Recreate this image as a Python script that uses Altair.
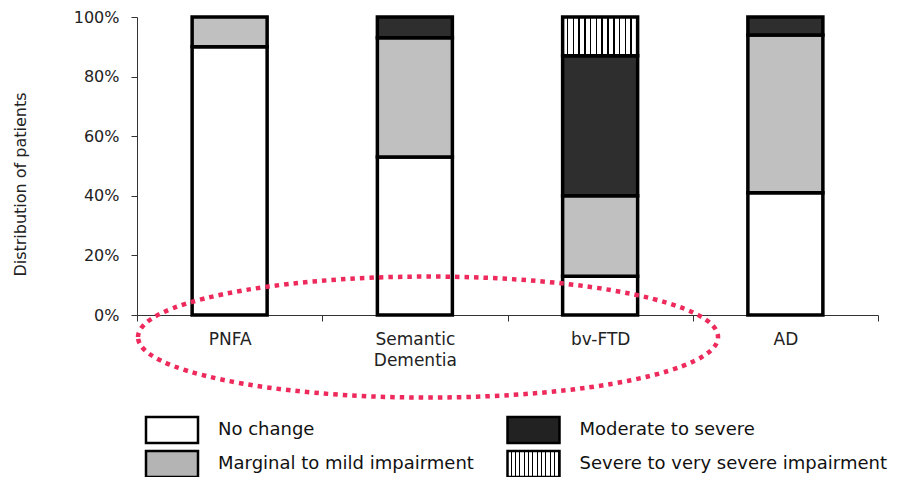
import altair as alt
import pandas as pd

# ---- data (percent of patients) ----
groups = ["PNFA", "Semantic Dementia", "bv-FTD", "AD"]
levels = ["No change", "Marginal to mild impairment",
          "Moderate to severe", "Severe to very severe impairment"]
no_change = [90, 53, 13, 41]
marginal = [10, 40, 27, 53]
moderate = [0, 7, 47, 6]
severe = [0, 0, 13, 0]
y_ticks = [0, 20, 40, 60, 80, 100]

# ---- styles ----
FONT = "DejaVu Sans"
bar_fills = ["#FFFFFF", "#C0C0C0", "#2E2E2E"]
legend_fills = ["#FFFFFF", "#B4B4B4", "#222222"]
RED = "#EE2A5C"


def stripes(n, frac):
    stops = []
    for k in range(n):
        a, b, c = k / n, (k + 1 - frac) / n, (k + 1) / n
        stops += [
            {"offset": a, "color": "white"},
            {"offset": b, "color": "white"},
            {"offset": b, "color": "black"},
            {"offset": c, "color": "black"},
        ]
    return {"gradient": "linear", "x1": 0, "x2": 1, "y1": 0, "y2": 0, "stops": stops}


# ---- build table ----
rows = []
series = [no_change, marginal, moderate, severe]
for gi, g in enumerate(groups):
    base = 0
    for li, lev in enumerate(levels):
        v = series[li][gi]
        if v > 0:
            rows.append({"group": g, "level": lev, "y0": base, "y1": base + v, "hatch": li == 3})
        base += v
df = pd.DataFrame(rows)
df_solid = df[~df["hatch"]]
df_hatch = df[df["hatch"]]

W, H = 741, 298
BAR_W = 75

x_enc = alt.X(
    "group:N", sort=groups, title=None,
    scale=alt.Scale(paddingInner=0, paddingOuter=0),
    axis=alt.Axis(
        labelAngle=0, tickBand="extent", tickSize=6, labelPadding=10,
        labelFont=FONT, labelFontSize=17, labelColor="#222", labelLineHeight=21,
        domainColor="#333", tickColor="#333",
        labelExpr="datum.label == 'Semantic Dementia' ? ['Semantic', 'Dementia'] : datum.label",
    ),
)
y_enc = alt.Y(
    "y0:Q", scale=alt.Scale(domain=[0, 100], nice=False),
    axis=alt.Axis(
        values=y_ticks, labelExpr="datum.value + '%'", grid=False,
        tickSize=6, labelPadding=12, labelFont=FONT, labelFontSize=16, labelColor="#222",
        domainColor="#333", tickColor="#333",
        title="Distribution of patients", titleFont=FONT, titleFontSize=16,
        titleFontWeight="normal", titleColor="#222", titleX=-117, titleY=167,
        titleBaseline="middle",
    ),
)

bars = alt.Chart(df_solid).mark_bar(width=BAR_W, stroke="black", strokeWidth=3.5).encode(
    x=x_enc, y=y_enc, y2="y1:Q",
    fill=alt.Fill("level:N", scale=alt.Scale(domain=levels[:3], range=bar_fills), legend=None),
)
hatch = alt.Chart(df_hatch).mark_bar(
    width=BAR_W, stroke="black", strokeWidth=3.5, fill=stripes(13, 0.27)
).encode(x=alt.X("group:N", sort=groups, title=None), y="y0:Q", y2="y1:Q")

# red dotted ellipse annotation around the x-axis labels
ellipse_df = pd.DataFrame({"cx": [1.571], "cy": [-7.4]})
ell_w, ell_h = 580, 121
ell_path = "M-1,0A1,{r},0,1,1,1,0A1,{r},0,1,1,-1,0Z".format(r=round(ell_h / ell_w, 4))
ellipse = alt.Chart(ellipse_df).mark_point(
    shape=ell_path, size=ell_w ** 2, filled=False, stroke=RED, strokeWidth=4.5,
    strokeDash=[4.5, 5], opacity=1, clip=False,
).encode(
    x=alt.X("cx:Q", scale=alt.Scale(domain=[0, 4]), axis=None),
    y=alt.Y("cy:Q"),
)

main = alt.layer(alt.layer(bars, hatch), ellipse).resolve_scale(x="independent").properties(
    width=W, height=H
)

# ---- legend (2 x 2 grid) ----
leg = pd.DataFrame({"level": levels})
leg["col"] = [i // 2 for i in range(len(levels))]
leg["row"] = [i % 2 for i in range(len(levels))]
LW, LH = W, 70
col0_px, col_step = 35, 361.5
row0_px, row_step = 16, 34
xs = alt.Scale(domain=[-col0_px / col_step, (LW - col0_px) / col_step])
ys = alt.Scale(domain=[-row0_px / row_step, (LH - row0_px) / row_step], reverse=True)
box_path = "M-1,-0.5H1V0.5H-1Z"
box_size = 52 ** 2

leg_solid = leg.iloc[:3]
leg_hatch = leg.iloc[3:]
boxes = alt.Chart(leg_solid).mark_point(
    shape=box_path, size=box_size, filled=True, stroke="black", strokeWidth=2.5, opacity=1
).encode(
    x=alt.X("col:Q", scale=xs, axis=None),
    y=alt.Y("row:Q", scale=ys, axis=None),
    fill=alt.Fill("level:N", scale=alt.Scale(domain=levels[:3], range=legend_fills), legend=None),
)
hbox = alt.Chart(leg_hatch).mark_point(
    shape=box_path, size=box_size, filled=True, stroke="black", strokeWidth=2.5, opacity=1,
    fill=stripes(12, 0.3),
).encode(x=alt.X("col:Q", scale=xs, axis=None), y=alt.Y("row:Q", scale=ys, axis=None))
texts = alt.Chart(leg).mark_text(
    align="left", baseline="middle", dx=46, font=FONT, fontSize=18, color="#111"
).encode(x=alt.X("col:Q", scale=xs, axis=None), y=alt.Y("row:Q", scale=ys, axis=None), text="level:N")

legend = alt.layer(boxes, hbox, texts).properties(width=LW, height=LH)

chart = alt.VConcatChart(vconcat=[main, legend], spacing=99, bounds="flush").resolve_scale(
    fill="independent"
).properties(
    padding={"left": 3, "top": 0, "right": 0, "bottom": 0}, background="white"
).configure_view(stroke="transparent")

chart.save("out.html", embed_options={"renderer": "svg", "actions": False})
